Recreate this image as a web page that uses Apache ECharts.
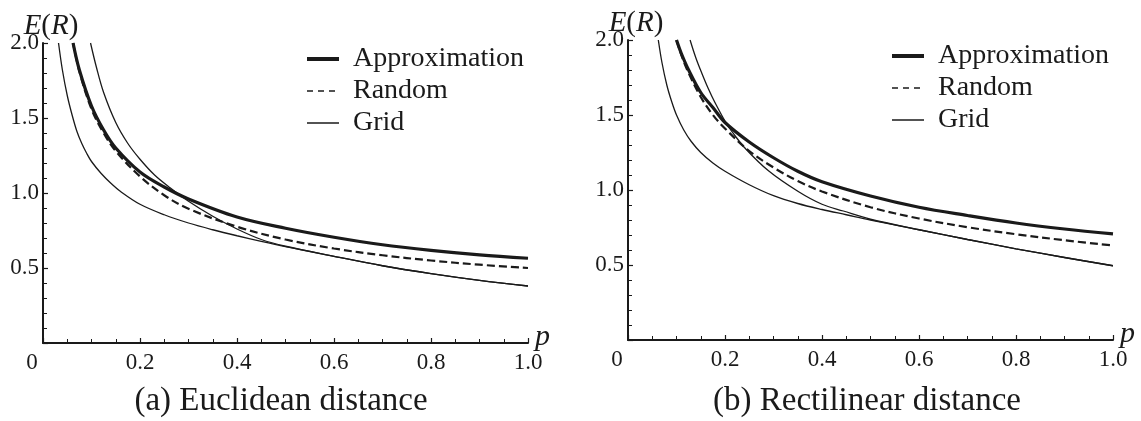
<!DOCTYPE html>
<html lang="en">
<head>
    <meta charset="UTF-8">
    <title>E(R)</title>
    <style type="text/css">
        html, body { margin: 0; padding: 0; background: #fff; }
        #chart { width: 1141px; height: 421px; }
    </style>
</head>
<body>
    <div id="chart"></div>
    <script src="https://cdn.jsdelivr.net/npm/echarts@6/dist/echarts.min.js"></script>
    <script type="text/javascript">
        // values
        var xTicks = [0, 0.2, 0.4, 0.6, 0.8, 1.0];

        // (a) Euclidean distance
        var eucApproxP = [0.062, 0.075, 0.1, 0.125, 0.15, 0.2, 0.25, 0.3, 0.4, 0.5, 0.6, 0.7, 0.8, 0.9, 1.0];
        var eucApproxE = [2.0, 1.82, 1.58, 1.42, 1.3, 1.14, 1.04, 0.96, 0.84, 0.765, 0.705, 0.655, 0.618, 0.588, 0.565];
        var eucRandomP = [0.062, 0.075, 0.1, 0.125, 0.15, 0.2, 0.25, 0.3, 0.4, 0.5, 0.6, 0.7, 0.8, 0.9, 1.0];
        var eucRandomE = [2.0, 1.81, 1.56, 1.4, 1.28, 1.11, 0.985, 0.895, 0.775, 0.69, 0.63, 0.585, 0.55, 0.522, 0.5];
        var eucGridAP = [0.032, 0.04, 0.05, 0.06, 0.07, 0.08, 0.09, 0.1, 0.12, 0.14, 0.16, 0.2, 0.25, 0.3, 0.35, 0.4, 0.45, 0.5, 0.6, 0.7, 0.8, 0.9, 1.0];
        var eucGridAE = [2.0, 1.82, 1.65, 1.52, 1.41, 1.33, 1.265, 1.21, 1.13, 1.065, 1.01, 0.925, 0.855, 0.8, 0.755, 0.715, 0.678, 0.643, 0.578, 0.515, 0.463, 0.418, 0.38];
        var eucGridBP = [0.098, 0.11, 0.125, 0.15, 0.175, 0.2, 0.23, 0.262, 0.3, 0.35, 0.4, 0.45, 0.5, 0.6, 0.7, 0.8, 0.9, 1.0];
        var eucGridBE = [2.0, 1.84, 1.67, 1.47, 1.33, 1.225, 1.12, 1.035, 0.945, 0.845, 0.76, 0.69, 0.645, 0.578, 0.515, 0.463, 0.418, 0.38];

        // (b) Rectilinear distance
        var recApproxP = [0.1, 0.11, 0.125, 0.15, 0.175, 0.2, 0.25, 0.3, 0.35, 0.4, 0.5, 0.6, 0.7, 0.8, 0.9, 1.0];
        var recApproxE = [2.0, 1.91, 1.8, 1.65, 1.55, 1.45, 1.32, 1.215, 1.125, 1.055, 0.96, 0.885, 0.83, 0.78, 0.74, 0.707];
        var recRandomP = [0.1, 0.11, 0.125, 0.15, 0.175, 0.2, 0.25, 0.3, 0.35, 0.4, 0.5, 0.6, 0.7, 0.8, 0.9, 1.0];
        var recRandomE = [2.0, 1.9, 1.78, 1.62, 1.5, 1.41, 1.26, 1.15, 1.06, 0.99, 0.885, 0.81, 0.752, 0.705, 0.665, 0.63];
        var recGridAP = [0.0625, 0.07, 0.08, 0.09, 0.1, 0.115, 0.13, 0.15, 0.175, 0.2, 0.25, 0.3, 0.35, 0.4, 0.45, 0.5, 0.6, 0.7, 0.8, 0.9, 1.0];
        var recGridAE = [2.0, 1.85, 1.7, 1.59, 1.5, 1.4, 1.325, 1.25, 1.18, 1.125, 1.035, 0.962, 0.91, 0.87, 0.835, 0.8, 0.735, 0.67, 0.608, 0.55, 0.495];
        var recGridBP = [0.128, 0.14, 0.152, 0.165, 0.179, 0.2035, 0.22, 0.241, 0.289, 0.351, 0.4, 0.444, 0.5, 0.6, 0.7, 0.8, 0.9, 1.0];
        var recGridBE = [2.0, 1.88, 1.78, 1.68, 1.585, 1.44, 1.365, 1.28, 1.13, 0.99, 0.905, 0.86, 0.805, 0.735, 0.67, 0.608, 0.55, 0.495];

        var ink = '#1a1a1a';
        var serif = 'Liberation Serif';
        var approxWidth = 3.2, randomWidth = 2.2, gridWidth = 1.3, dash = [8, 4];

        function zip(p, e) {
            var out = [];
            for (var i = 0; i < p.length; i++) out.push([p[i], e[i]]);
            return out;
        }

        function line(name, p, e, idx, width, type, z) {
            return {
                name: name,
                type: 'line',
                xAxisIndex: idx,
                yAxisIndex: idx,
                data: zip(p, e),
                smooth: 0.35,
                symbol: 'none',
                z: z,
                lineStyle: { color: ink, width: width, type: type },
                itemStyle: { color: ink }
            };
        }

        function xAxis(idx) {
            return {
                type: 'value',
                gridIndex: idx,
                min: 0,
                max: 1,
                interval: 0.2,
                name: 'p',
                nameLocation: 'end',
                nameGap: 7,
                nameMoveOverlap: false,
                nameTextStyle: { fontFamily: serif, fontStyle: 'italic', fontSize: 30, lineHeight: 12, verticalAlign: 'bottom', color: ink },
                axisLine: { lineStyle: { color: ink, width: 2 } },
                axisTick: { inside: true, length: 5, lineStyle: { color: ink, width: 1.2 } },
                minorTick: { show: true, splitNumber: 4, length: 4, lineStyle: { color: ink, width: 1 } },
                splitLine: { show: false },
                axisLabel: {
                    margin: 8,
                    fontFamily: serif,
                    fontSize: 23,
                    color: ink,
                    customValues: xTicks,
                    formatter: function (v) {
                        return v === 0 ? '{z|0}' : v.toFixed(1);
                    },
                    rich: { z: { fontFamily: serif, fontSize: 23, color: ink, padding: [0, 22, 0, 0] } }
                }
            };
        }

        function yAxis(idx) {
            return {
                type: 'value',
                gridIndex: idx,
                min: 0,
                max: 2,
                interval: 0.5,
                name: '{i|E}({i|R})',
                nameLocation: 'end',
                nameGap: 2,
                nameMoveOverlap: false,
                nameTextStyle: {
                    fontFamily: serif, fontSize: 29, color: ink, padding: [0, 0, 0, 16],
                    rich: { i: { fontFamily: serif, fontStyle: 'italic', fontSize: 29, color: ink } }
                },
                axisLine: { lineStyle: { color: ink, width: 2 } },
                axisTick: { inside: true, length: 5, lineStyle: { color: ink, width: 1.2 } },
                minorTick: { show: true, splitNumber: 5, length: 4, lineStyle: { color: ink, width: 1 } },
                splitLine: { show: false },
                axisLabel: {
                    margin: 4,
                    fontFamily: serif,
                    fontSize: 23,
                    color: ink,
                    formatter: function (v) {
                        return v === 0 ? '' : v.toFixed(1);
                    }
                }
            };
        }

        function legend(left, top) {
            return {
                left: left,
                top: top,
                orient: 'vertical',
                padding: 0,
                itemWidth: 32,
                itemHeight: 14,
                itemGap: 4,
                data: [
                    { name: 'Approximation', lineStyle: { width: approxWidth + 0.8 } },
                    { name: 'Random', lineStyle: { width: randomWidth - 0.6, type: [6, 5] } },
                    { name: 'Grid', lineStyle: { width: gridWidth + 0.2 } }
                ],
                selectedMode: false,
                itemStyle: { opacity: 0 },
                textStyle: { fontFamily: serif, fontSize: 28, lineHeight: 28, color: ink, padding: [0, 0, 0, 9] }
            };
        }

        var myChart = echarts.init(document.getElementById('chart'));
        option = {
            backgroundColor: '#fff',
            animation: false,
            grid: [
                { left: 43, top: 43, width: 485, height: 300 },
                { left: 628, top: 40, width: 485, height: 300 }
            ],
            xAxis: [xAxis(0), xAxis(1)],
            yAxis: [yAxis(0), yAxis(1)],
            legend: [legend(305, 45), legend(890, 42)],
            graphic: [
                { type: 'text', x: 281, y: 401, style: { text: '(a) Euclidean distance', font: '33px "Liberation Serif"', fill: ink, align: 'center', verticalAlign: 'middle' } },
                { type: 'text', x: 867, y: 401, style: { text: '(b) Rectilinear distance', font: '33px "Liberation Serif"', fill: ink, align: 'center', verticalAlign: 'middle' } }
            ],
            series: [
                line('Grid', eucGridAP, eucGridAE, 0, gridWidth, 'solid', 2),
                line('Grid', eucGridBP, eucGridBE, 0, gridWidth, 'solid', 2),
                line('Random', eucRandomP, eucRandomE, 0, randomWidth, dash, 3),
                line('Approximation', eucApproxP, eucApproxE, 0, approxWidth, 'solid', 4),
                line('Grid', recGridAP, recGridAE, 1, gridWidth, 'solid', 2),
                line('Grid', recGridBP, recGridBE, 1, gridWidth, 'solid', 2),
                line('Random', recRandomP, recRandomE, 1, randomWidth, dash, 3),
                line('Approximation', recApproxP, recApproxE, 1, approxWidth, 'solid', 4)
            ]
        };
        myChart.setOption(option);
    </script>
</body>
</html>
